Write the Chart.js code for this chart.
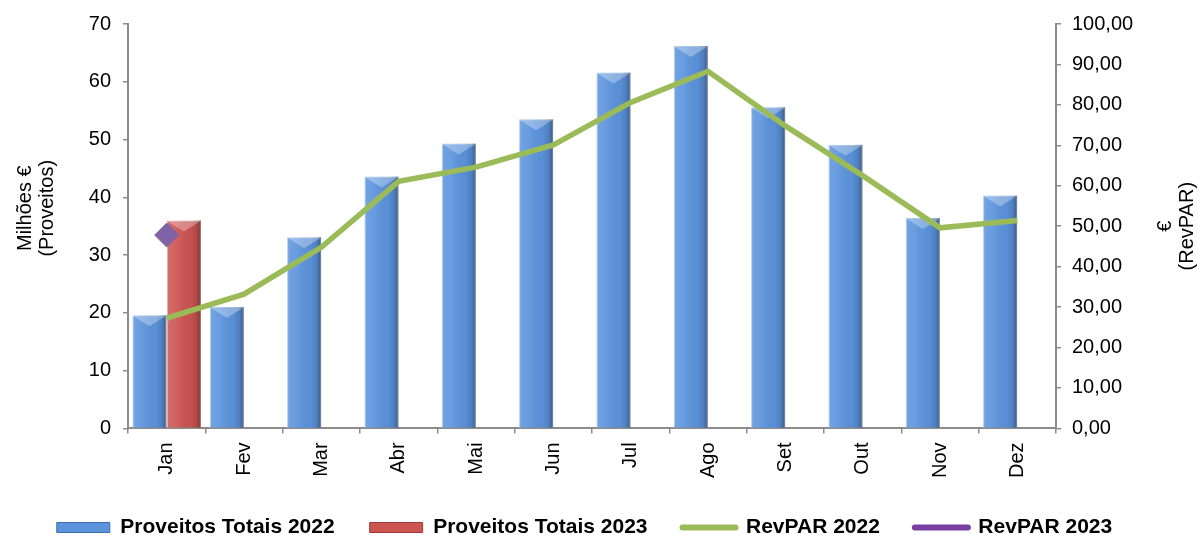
<!doctype html>
<html lang="pt">
<head>
  <meta charset="utf-8">
  <title>Proveitos Totais e RevPAR</title>
  <script src="https://cdn.jsdelivr.net/npm/chart.js"></script>
  <style>
    html, body { margin: 0; padding: 0; background: #fff; }
    #caixa { width: 1199px; height: 535px; }
  </style>
</head>
<body>
  <div id="caixa"><canvas id="grafico"></canvas></div>

  <script>
    // Dados
    var meses = ['Jan', 'Fev', 'Mar', 'Abr', 'Mai', 'Jun', 'Jul', 'Ago', 'Set', 'Out', 'Nov', 'Dez'];
    var proveitos2022 = [19.6, 21.0, 33.1, 43.6, 49.3, 53.5, 61.6, 66.2, 55.6, 49.1, 36.4, 40.3];
    var proveitos2023 = [36.0, null, null, null, null, null, null, null, null, null, null, null];
    var revpar2022 = [27.3, 33.2, 44.8, 61.1, 64.6, 70.1, 80.6, 88.3, 74.8, 62.5, 49.6, 51.4];
    var revpar2023 = [47.8, null, null, null, null, null, null, null, null, null, null, null];
    var ticksEsquerda = ['0', '10', '20', '30', '40', '50', '60', '70'];
    var ticksDireita = ['0,00', '10,00', '20,00', '30,00', '40,00', '50,00', '60,00', '70,00', '80,00', '90,00', '100,00'];

    var fonte = '"Liberation Sans", Arial, sans-serif';
    var cinza = '#8c8c8c';

    // relevo das barras (gradiente + chanfro), desenhado logo a seguir a cada dataset de barras
    var relevoBarras = {
      id: 'relevoBarras',
      afterDatasetDraw: function(chart, args) {
        var meta = args.meta;
        if (meta.type !== 'bar') return;
        var ctx = chart.ctx;
        var valores = chart.data.datasets[args.index].data;
        meta.data.forEach(function(bar, i) {
          if (valores[i] == null) return;
          var p = bar.getProps(['x', 'y', 'base', 'width'], true);
          var l = p.x - p.width / 2, r = p.x + p.width / 2, t = p.y, b = p.base;
          ctx.save();
          var g = ctx.createLinearGradient(l, 0, r, 0);
          g.addColorStop(0, 'rgba(255,255,255,0.15)');
          g.addColorStop(0.3, 'rgba(255,255,255,0.08)');
          g.addColorStop(0.7, 'rgba(0,0,0,0.03)');
          g.addColorStop(0.88, 'rgba(0,0,0,0.15)');
          g.addColorStop(1, 'rgba(0,0,0,0.38)');
          ctx.fillStyle = g;
          ctx.fillRect(l, t, r - l, b - t);
          var h = Math.min(11, (b - t) / 2);
          ctx.beginPath();
          ctx.moveTo(l + 1, t + 1); ctx.lineTo(r - 1, t + 1); ctx.lineTo(p.x, t + h);
          ctx.closePath();
          ctx.fillStyle = 'rgba(255,255,255,0.3)';
          ctx.fill();
          ctx.restore();
        });
      }
    };

    // títulos dos eixos (duas linhas, rodados) e ligeiro ajuste da legenda
    var titulosEixos = {
      id: 'titulosEixos',
      afterLayout: function(chart) {
        chart.legend.left -= 15;
        chart.legend.right -= 15;
        chart.legend.top += 2;
        chart.legend.bottom += 2;
      },
      afterDraw: function(chart) {
        var ctx = chart.ctx, a = chart.chartArea;
        var cy = (a.top + a.bottom) / 2;
        ctx.save();
        ctx.font = '20px ' + fonte;
        ctx.fillStyle = '#000';
        ctx.textAlign = 'center';
        ctx.textBaseline = 'middle';
        ctx.translate(36, cy - 18);
        ctx.rotate(-Math.PI / 2);
        ctx.fillText('Milhões €', 0, -11);
        ctx.fillText('(Proveitos)', 0, 11);
        ctx.restore();

        ctx.save();
        ctx.font = '20px ' + fonte;
        ctx.fillStyle = '#000';
        ctx.textAlign = 'center';
        ctx.textBaseline = 'middle';
        ctx.translate(1176, cy);
        ctx.rotate(-Math.PI / 2);
        ctx.fillText('€', 0, -11);
        ctx.fillText('(RevPAR)', 0, 11);
        ctx.restore();
      }
    };

    var ctx = document.getElementById('grafico').getContext('2d');
    var grafico = new Chart(ctx, {
      type: 'bar',
      data: {
        labels: meses,
        datasets: [
          {
            label: 'Proveitos Totais 2022',
            data: proveitos2022,
            backgroundColor: '#5b93dc',
            borderColor: '#a9c3e6',
            borderWidth: 1,
            yAxisID: 'y',
            order: 1
          },
          {
            label: 'Proveitos Totais 2023',
            data: proveitos2023,
            backgroundColor: '#cc5451',
            borderColor: '#d9a3a1',
            borderWidth: 1,
            yAxisID: 'y',
            order: 1
          },
          {
            type: 'line',
            label: 'RevPAR 2022',
            data: revpar2022,
            borderColor: '#9bbb59',
            backgroundColor: '#9bbb59',
            borderWidth: 5.5,
            pointRadius: 0,
            yAxisID: 'y1',
            order: 0
          },
          {
            type: 'line',
            label: 'RevPAR 2023',
            data: revpar2023,
            borderColor: '#7a3fa2',
            backgroundColor: '#7f63a6',
            pointStyle: 'rectRot',
            pointRadius: 12,
            pointBackgroundColor: '#7f63a6',
            pointBorderColor: '#7f63a6',
            showLine: false,
            yAxisID: 'y1',
            order: 0
          }
        ]
      },
      options: {
        responsive: true,
        maintainAspectRatio: false,
        animation: false,
        categoryPercentage: 0.89,
        barPercentage: 0.99,
        layout: { padding: { top: 22, right: 0, bottom: -11, left: 0 } },
        plugins: {
          tooltip: { enabled: false },
          legend: {
            position: 'bottom',
            labels: {
              usePointStyle: true,
              pointStyleWidth: 53,
              boxHeight: 10,
              padding: 35,
              color: '#000',
              font: { family: fonte, size: 21, weight: 'bold' },
              generateLabels: function(chart) {
                var itens = Chart.defaults.plugins.legend.labels.generateLabels(chart);
                itens.forEach(function(it) {
                  var ds = chart.data.datasets[it.datasetIndex];
                  if (ds.type === 'line') {
                    it.pointStyle = 'line';
                    it.strokeStyle = ds.borderColor;
                    it.lineWidth = 6;
                    it.lineCap = 'round';
                  } else {
                    it.pointStyle = 'rect';
                    it.fillStyle = ds.backgroundColor;
                    it.strokeStyle = it.datasetIndex === 0 ? '#3f6ea8' : '#9a3c3a';
                    it.lineWidth = 1;
                  }
                });
                return itens.sort(function(a, b) { return a.datasetIndex - b.datasetIndex; });
              }
            }
          }
        },
        scales: {
          x: {
            grid: { drawOnChartArea: false, drawTicks: true, tickLength: 5, color: cinza, lineWidth: 1.5 },
            border: { color: cinza, width: 2 },
            ticks: {
              minRotation: 90, maxRotation: 90, padding: 9,
              color: '#000', font: { family: fonte, size: 20 }
            },
            afterFit: function(s) { s.height -= 7; }
          },
          y: {
            position: 'left',
            min: 0, max: 70,
            grid: { drawOnChartArea: false, drawTicks: true, tickLength: 5, color: cinza, lineWidth: 1.5 },
            border: { color: cinza, width: 2 },
            ticks: {
              stepSize: 10, padding: 12,
              color: '#000', font: { family: fonte, size: 20 },
              callback: function(v, i) { return ticksEsquerda[i]; }
            },
            afterFit: function(s) { s.width = 128; }
          },
          y1: {
            position: 'right',
            min: 0, max: 100,
            grid: { drawOnChartArea: false, drawTicks: true, tickLength: 5, color: cinza, lineWidth: 1.5 },
            border: { color: cinza, width: 2 },
            ticks: {
              stepSize: 10, padding: 11,
              color: '#000', font: { family: fonte, size: 20 },
              callback: function(v, i) { return ticksDireita[i]; }
            },
            afterFit: function(s) { s.width = 143; }
          }
        }
      },
      plugins: [relevoBarras, titulosEixos]
    });
  </script>
</body>
</html>
